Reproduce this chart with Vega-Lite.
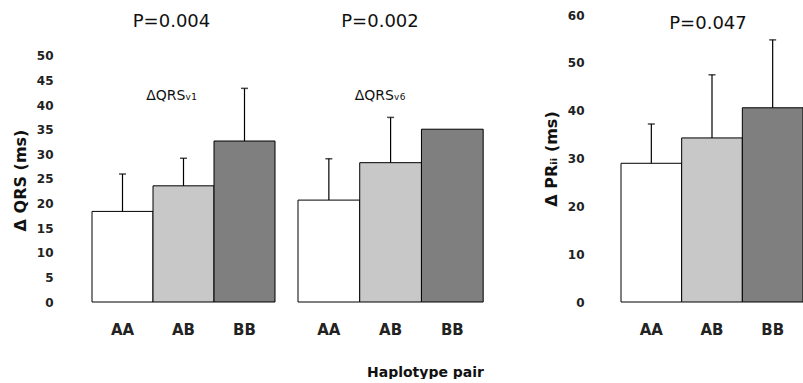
{
  "$schema": "https://vega.github.io/schema/vega-lite/v6.json",
  "padding": {"left": 12, "top": 9, "right": 0, "bottom": 0},
  "bounds": "flush",
  "spacing": 23,
  "config": {
    "view": {"stroke": null},
    "font": "DejaVu Sans",
    "axis": {"grid": false, "domain": false, "ticks": false, "labelColor": "#222", "titleColor": "#111"}
  },
  "data": {"values": [
    {"panel": "V1", "geno": "AA", "value": 18.4, "err": 26.0},
    {"panel": "V1", "geno": "AB", "value": 23.6, "err": 29.2},
    {"panel": "V1", "geno": "BB", "value": 32.7, "err": 43.4},
    {"panel": "V6", "geno": "AA", "value": 20.7, "err": 29.1},
    {"panel": "V6", "geno": "AB", "value": 28.3, "err": 37.5},
    {"panel": "V6", "geno": "BB", "value": 35.1, "err": null},
    {"panel": "PR", "geno": "AA", "value": 29.0, "err": 37.2},
    {"panel": "PR", "geno": "AB", "value": 34.3, "err": 47.5},
    {"panel": "PR", "geno": "BB", "value": 40.6, "err": 54.8}
  ]},
  "hconcat": [
    {
      "width": 183, "height": 287,
      "transform": [{"filter": "datum.panel == 'V1'"}],
      "title": {"text": "P=0.004", "subtitle": "ΔQRSᵥ₁", "fontSize": 18, "fontWeight": "normal", "color": "#111", "subtitleFontSize": 14, "subtitleColor": "#111", "subtitlePadding": 58, "offset": -88, "dx": -12, "anchor": "middle"},
      "encoding": {
        "x": {"field": "geno", "type": "nominal", "sort": ["AA", "AB", "BB"], "scale": {"paddingInner": 0, "paddingOuter": 0},
              "axis": {"title": null, "labelAngle": 0, "labelFontSize": 15, "labelFontWeight": "bold", "labelPadding": 20}},
        "y": {"field": "value", "type": "quantitative", "scale": {"domain": [0, 58.3], "nice": false},
              "axis": {"values": [0, 5, 10, 15, 20, 25, 30, 35, 40, 45, 50], "labelOverlap": false, "labelBound": false, "title": "Δ QRS (ms)", "titleFontSize": 16, "titleFontWeight": "bold", "titleY": 165, "titlePadding": 8, "labelFontSize": 12, "labelFontWeight": "bold", "labelPadding": 39}}
      },
      "layer": [
        {"mark": {"type": "bar", "stroke": "black", "strokeWidth": 1},
         "encoding": {
           "color": {"field": "geno", "type": "nominal", "scale": {"domain": ["AA", "AB", "BB"], "range": ["#ffffff", "#c8c8c8", "#7f7f7f"]}, "legend": null}
         }},
        {"mark": {"type": "rule", "color": "black", "strokeWidth": 1.2},
         "encoding": {"y2": {"field": "err"}}},
        {"mark": {"type": "tick", "color": "black", "size": 7, "thickness": 1.5},
         "encoding": {"y": {"field": "err", "type": "quantitative"}}}
      ]
    },
    {
      "width": 300, "height": 287,
      "transform": [{"filter": "datum.panel == 'V6'"}],
      "title": {"text": "P=0.002", "subtitle": "ΔQRSᵥ₆", "fontSize": 18, "fontWeight": "normal", "color": "#111", "subtitleFontSize": 14, "subtitleColor": "#111", "subtitlePadding": 58, "offset": -88, "dx": -68, "anchor": "middle"},
      "encoding": {
        "x": {"field": "geno", "type": "nominal", "sort": ["AA", "AB", "BB"], "scale": {"paddingInner": 0, "paddingOuter": 0.93, "align": 0},
              "axis": {"title": "Haplotype pair", "titleFontSize": 14, "titleFontWeight": "bold", "titleX": 127, "titlePadding": 28, "labelAngle": 0, "labelFontSize": 15, "labelFontWeight": "bold", "labelPadding": 20}},
        "y": {"field": "value", "type": "quantitative", "scale": {"domain": [0, 58.3], "nice": false}, "axis": null}
      },
      "layer": [
        {"mark": {"type": "bar", "stroke": "black", "strokeWidth": 1},
         "encoding": {
           "color": {"field": "geno", "type": "nominal", "scale": {"domain": ["AA", "AB", "BB"], "range": ["#ffffff", "#c8c8c8", "#7f7f7f"]}, "legend": null}
         }},
        {"mark": {"type": "rule", "color": "black", "strokeWidth": 1.2},
         "encoding": {"y2": {"field": "err"}}},
        {"mark": {"type": "tick", "color": "black", "size": 7, "thickness": 1.5},
         "encoding": {"y": {"field": "err", "type": "quantitative", "axis": null}}}
      ]
    },
    {
      "width": 182, "height": 287,
      "transform": [{"filter": "datum.panel == 'PR'"}],
      "title": {"text": "P=0.047", "fontSize": 18, "fontWeight": "normal", "color": "#111", "offset": -24, "dx": -4, "anchor": "middle"},
      "encoding": {
        "x": {"field": "geno", "type": "nominal", "sort": ["AA", "AB", "BB"], "scale": {"paddingInner": 0, "paddingOuter": 0},
              "axis": {"title": null, "labelAngle": 0, "labelFontSize": 15, "labelFontWeight": "bold", "labelPadding": 20}},
        "y": {"field": "value", "type": "quantitative", "scale": {"domain": [0, 60], "nice": false},
              "axis": {"values": [0, 10, 20, 30, 40, 50, 60], "labelOverlap": false, "labelBound": false, "title": "Δ PRᵢᵢ (ms)", "titleFontSize": 16, "titleFontWeight": "bold", "titlePadding": 8, "labelFontSize": 12, "labelFontWeight": "bold", "labelPadding": 37}}
      },
      "layer": [
        {"mark": {"type": "bar", "stroke": "black", "strokeWidth": 1},
         "encoding": {
           "color": {"field": "geno", "type": "nominal", "scale": {"domain": ["AA", "AB", "BB"], "range": ["#ffffff", "#c8c8c8", "#7f7f7f"]}, "legend": null}
         }},
        {"mark": {"type": "rule", "color": "black", "strokeWidth": 1.2},
         "encoding": {"y2": {"field": "err"}}},
        {"mark": {"type": "tick", "color": "black", "size": 7, "thickness": 1.5},
         "encoding": {"y": {"field": "err", "type": "quantitative"}}}
      ]
    }
  ],
  "resolve": {"scale": {"y": "independent", "color": "shared"}}
}
